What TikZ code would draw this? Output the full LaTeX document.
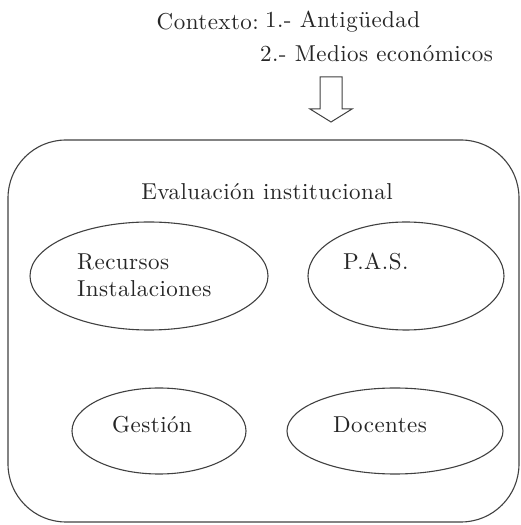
\documentclass[tikz,border=0pt]{standalone}
\usepackage{fontspec}
\setmainfont{lmroman10-regular.otf}[LetterSpace=2]
\usetikzlibrary{shapes.geometric}
\begin{document}
\begin{tikzpicture}[x=1pt,y=1pt,
  txt/.style={font=\fontsize{23}{27}\selectfont, inner sep=0pt, text=black!85},
  oval/.style={draw=black!75, line width=1.1pt, ellipse, inner sep=0pt},
  frame/.style={draw=black!75, line width=1.1pt, rounded corners=58pt}]
\useasboundingbox (0,0) rectangle (521,525);
% context text
\node[txt, anchor=east] (ctx) at (259,503) {Contexto:};
\node[txt, anchor=west] (c1) at (265,503) {1.- Antigüedad};
\node[txt, anchor=west] (c2) at (260,471) {2.- Medios económicos};
% hollow arrow
\draw[draw=black!75, line width=1pt, fill=white]
  (320,448) -- (342,448) -- (342,416) -- (352,416) -- (331,403) -- (310,416) -- (320,416) -- cycle;
% frame
\draw[frame] (8,3) rectangle (519,385);
\node[txt] (title) at (267,333) {Evaluación institucional};
% ellipses
\node[oval, minimum width=238pt, minimum height=108pt] (rec) at (149,249) {};
\node[oval, minimum width=196pt, minimum height=108pt] (pas) at (406,249) {};
\node[oval, minimum width=174pt, minimum height=86pt] (ges) at (159,94) {};
\node[oval, minimum width=216pt, minimum height=86pt] (doc) at (395,94) {};
% labels
\node[txt, anchor=west, align=left] (recT) at (77,250) {Recursos\\Instalaciones};
\node[txt, anchor=west] (pasT) at (343,263) {P.A.S.};
\node[txt, anchor=west] (gesT) at (112,100) {Gestión};
\node[txt, anchor=west] (docT) at (333,100) {Docentes};
\end{tikzpicture}
\end{document}
